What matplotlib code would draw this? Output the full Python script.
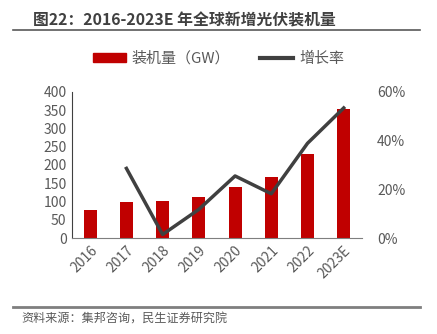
import matplotlib
matplotlib.use('Agg')
import matplotlib.pyplot as plt
from matplotlib.lines import Line2D
from matplotlib.patches import Patch
from matplotlib.ticker import FuncFormatter

plt.rcParams['font.family'] = ['Noto Sans CJK SC', 'DejaVu Sans']

years = ['2016', '2017', '2018', '2019', '2020', '2021', '2022', '2023E']
capacity = [78, 99, 101, 112, 140, 166, 230, 353]
growth = [None, 28.6, 1.5, 11.8, 25.5, 18.2, 38.9, 53.4]

BAR = '#C00000'
LINE = '#404040'
TXT = '#595959'

fig = plt.figure(figsize=(4.37, 3.34), dpi=100)
ax = fig.add_axes([0.165, 0.287, 0.663, 0.438])
x = list(range(len(years)))
ax.bar(x, capacity, width=0.36, color=BAR, zorder=2)
ax.set_xlim(-0.5, 7.5)
ax.set_ylim(0, 400)
ax.set_yticks(range(0, 401, 50))
ax.set_xticks(x)
ax.set_xticklabels(years, rotation=45, ha='right', rotation_mode='anchor')
ax.tick_params(length=0, labelsize=10, colors=TXT, pad=4)
for s in ['top', 'right']:
    ax.spines[s].set_visible(False)
ax.spines['left'].set_color(LINE)
ax.spines['bottom'].set_color('#7f7f7f')

ax2 = ax.twinx()
gx = [i for i, g in zip(x, growth) if g is not None]
gy = [g for g in growth if g is not None]
ax2.plot(gx, gy, color=LINE, lw=2.5, zorder=3)
ax2.set_ylim(0, 60)
ax2.set_yticks([0, 20, 40, 60])
ax2.yaxis.set_major_formatter(FuncFormatter(lambda v, p: f'{v:.0f}%'))
ax2.tick_params(length=0, labelsize=10, colors=TXT, pad=11)
for s in ['top', 'right', 'left', 'bottom']:
    ax2.spines[s].set_visible(False)

handles = [Patch(color=BAR), Line2D([0], [0], color=LINE, lw=3)]
fig.legend(handles, ['装机量（GW）', '增长率'], loc='center', bbox_to_anchor=(0.50, 0.825),
           ncol=2, frameon=False, fontsize=10.8, handlelength=2.2, handleheight=0.6,
           handletextpad=0.4, columnspacing=2.0, labelcolor=TXT)

fig.text(0.076, 0.94, '图22：2016-2023E 年全球新增光伏装机量', fontsize=11.4,
         fontweight='bold', color='#404040', va='center')
fig.add_artist(Line2D([0.03, 0.96], [0.91, 0.91], color='#595959', lw=1.2))
fig.add_artist(Line2D([0.03, 0.96], [0.081, 0.081], color='#7f7f7f', lw=2))
fig.text(0.05, 0.045, '资料来源：集邦咨询，民生证券研究院', fontsize=8.7, color=TXT, va='center')

fig.savefig('out.png', dpi=100)
